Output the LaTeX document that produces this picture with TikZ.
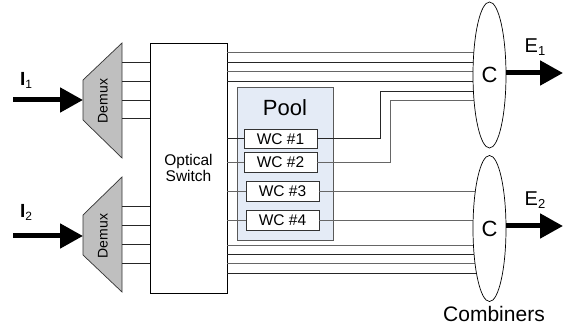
\documentclass[tikz,border=0pt]{standalone}
\usepackage{fontspec}
\setmainfont{Liberation Sans}
\usetikzlibrary{shapes.geometric,arrows.meta}
\begin{document}
\begin{tikzpicture}[x=1pt,y=-1pt,
  fib/.style={line width=1pt,draw=black!85},
  fibg/.style={line width=1pt,draw=black!60},
  bigarrow/.style={line width=5pt,-{Triangle[length=23pt,width=24pt]}},
  wcbox/.style={draw=black!80,line width=0.7pt,fill=white,minimum width=73pt,minimum height=19.5pt,inner sep=0pt,font=\fontsize{15.5}{17}\selectfont},
  comb/.style={draw=black,line width=0.7pt,fill=white,ellipse,minimum width=33pt,minimum height=146pt,inner sep=0pt,font=\fontsize{22}{24}\selectfont}]
\useasboundingbox (0,0) rectangle (568,331);
% optical switch
\node[draw,line width=0.7pt,minimum width=77pt,minimum height=250pt,inner sep=0pt,align=center,font=\fontsize{15.5}{17}\selectfont] (sw) at (188.5,168) {Optical\\[-1pt]Switch};
% demux 1 and 2
\path[draw=black!80,fill=black!25,line width=0.7pt] (122,43) coordinate (d1tr) -- (122,158) -- (83,120) -- (83,80) -- cycle;
\path[draw=black!80,fill=black!25,line width=0.7pt] (122,177) coordinate (d2tr) -- (122,292) -- (83,255) -- (83,215) -- cycle;
\node[rotate=90,font=\fontsize{14}{16}\selectfont] (dm1) at (103,101) {Demux};
\node[rotate=90,font=\fontsize{14}{16}\selectfont] (dm2) at (103,236) {Demux};
\coordinate (d1in) at (83,100);
\coordinate (d2in) at (83,236);
\foreach \y in {63,82,101,119} \draw[fib] (122,\y) -- (sw.west |- 0,\y);
\foreach \y in {207,226,245,264} \draw[fib] (122,\y) -- (sw.west |- 0,\y);
% input arrows
\coordinate (i1s) at (13,100);
\coordinate (i2s) at (13,236);
\draw[bigarrow] (i1s) -- (d1in);
\draw[bigarrow] (i2s) -- (d2in);
\node[font=\fontsize{19}{21}\selectfont\bfseries] (l1) at (26,80) {I\textmd{\fontsize{12}{13}\selectfont\raisebox{-3pt}{1}}};
\node[font=\fontsize{19}{21}\selectfont\bfseries] (l2) at (26,212) {I\textmd{\fontsize{12}{13}\selectfont\raisebox{-3pt}{2}}};
% pool
\node[draw=black!65,line width=0.7pt,fill={rgb,255:red,228;green,235;blue,246},minimum width=96pt,minimum height=153pt,inner sep=0pt] (pool) at (285,163.5) {};
\node[font=\fontsize{22}{24}\selectfont] (pooltxt) at (285,108) {Pool};
\node[wcbox] (wc1) at (280.5,139) {WC \#1};
\node[wcbox] (wc2) at (280.5,162.5) {WC \#2};
\node[wcbox] (wc3) at (282.5,191.5) {WC \#3};
\node[wcbox] (wc4) at (282.5,220.5) {WC \#4};
\draw[fib] (sw.east |- wc1.west) -- (wc1.west);
\draw[fibg] (sw.east |- wc2.west) -- (wc2.west);
\draw[fibg] (sw.east |- wc3.west) -- (wc3.west);
\draw[fibg] (sw.east |- wc4.west) -- (wc4.west);
% combiners: lines first, ellipses on top
\coordinate (c1c) at (489.5,75);
\coordinate (c2c) at (489.5,228.5);
\draw[fibg] (sw.east |- 0,53) -- (c1c |- 0,53);
\draw[fib] (sw.east |- 0,63) -- (c1c |- 0,63);
\draw[fibg] (sw.east |- 0,72) -- (c1c |- 0,72);
\draw[fib] (sw.east |- 0,82) -- (c1c |- 0,82);
\draw[fib] (wc1.east) -- (380,139) -- (380,92) -- (c1c |- 0,92);
\draw[fibg] (wc2.east) -- (390,162.5) -- (390,101) -- (c1c |- 0,101);
\draw[fibg] (wc3.east) -- (c2c |- wc3.east);
\draw[fibg] (wc4.east) -- (c2c |- wc4.east);
\draw[fibg] (sw.east |- 0,246) -- (c2c |- 0,246);
\draw[fib] (sw.east |- 0,255) -- (c2c |- 0,255);
\draw[fibg] (sw.east |- 0,264) -- (c2c |- 0,264);
\draw[fib] (sw.east |- 0,274) -- (c2c |- 0,274);
\node[comb] (c1) at (c1c) {C};
\node[comb] (c2) at (c2c) {C};
% outputs
\coordinate (e1t) at (563,73);
\coordinate (e2t) at (563,226);
\draw[bigarrow] (c1.east |- e1t) -- (e1t);
\draw[bigarrow] (c2.east |- e2t) -- (e2t);
\node[font=\fontsize{20}{22}\selectfont] (e1) at (535,47) {E\fontsize{13}{14}\selectfont\raisebox{-3pt}{1}};
\node[font=\fontsize{20}{22}\selectfont] (e2) at (535,200) {E\fontsize{13}{14}\selectfont\raisebox{-3pt}{2}};
\node[font=\fontsize{21}{24}\selectfont] (combl) at (494,314) {Combiners};
\end{tikzpicture}
\end{document}
